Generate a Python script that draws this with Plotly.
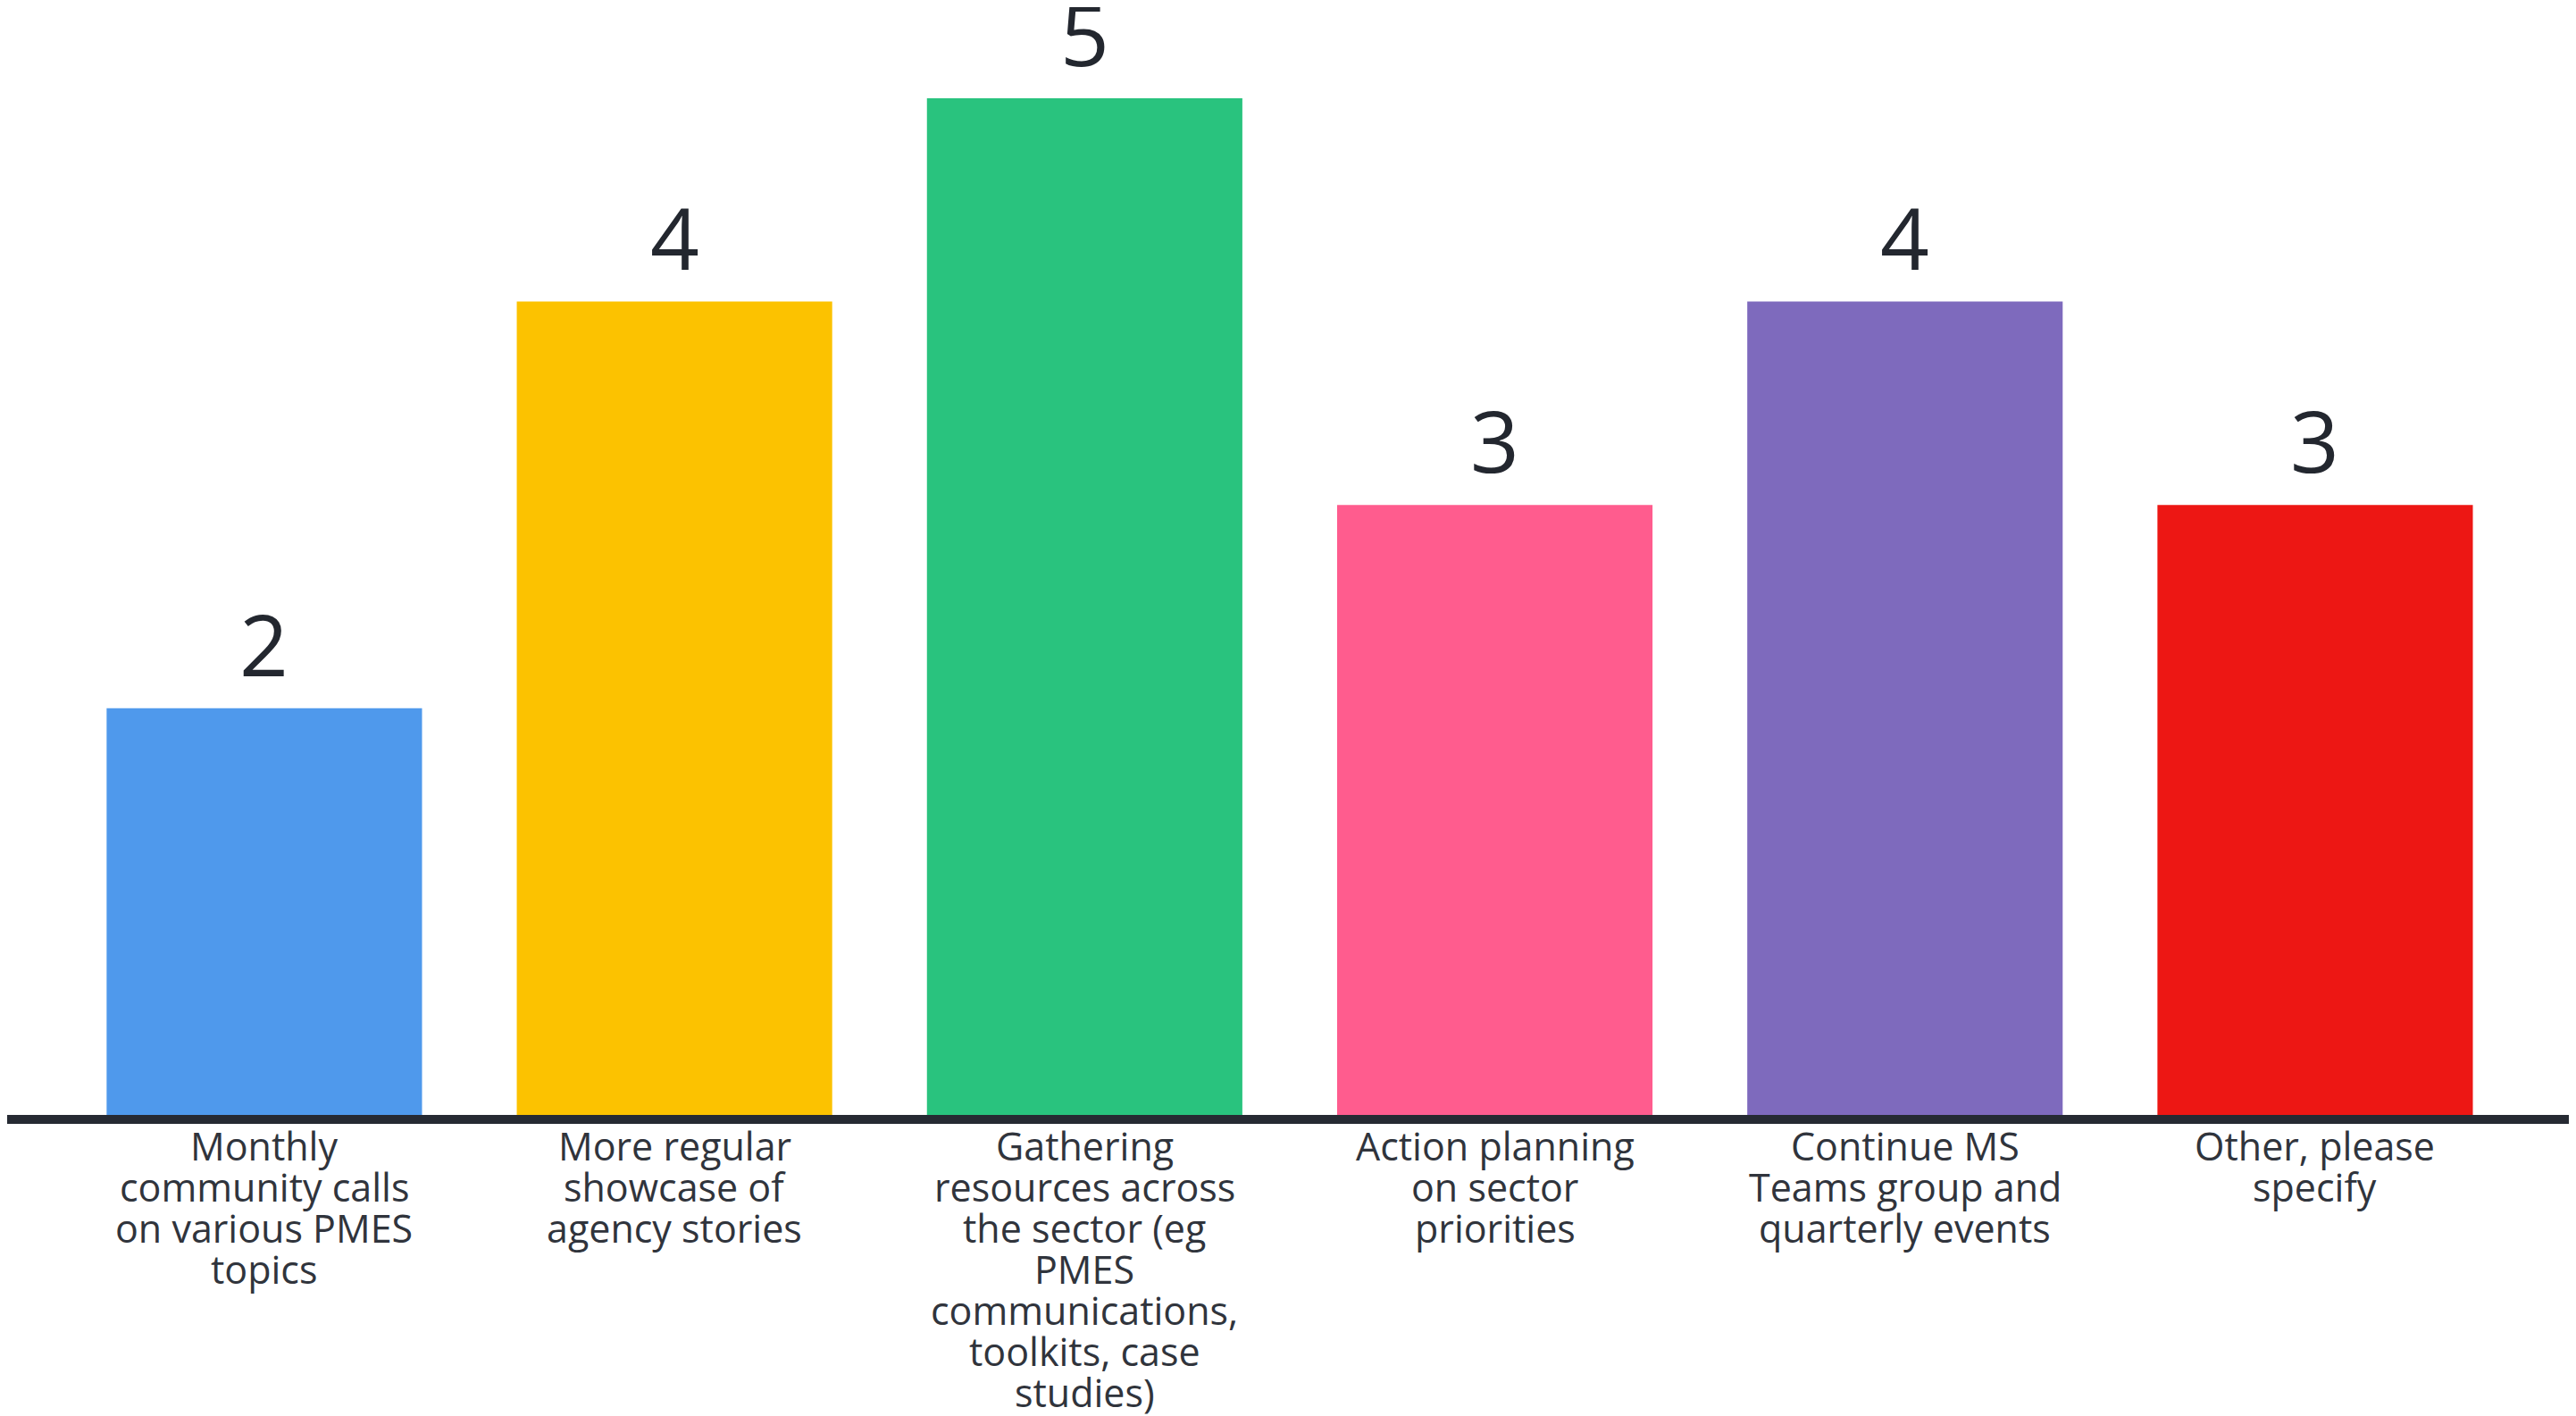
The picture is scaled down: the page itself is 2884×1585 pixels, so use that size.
import plotly.graph_objects as go

categories = [
    "Monthly<br>community calls<br>on various PMES<br>topics",
    "More regular<br>showcase of<br>agency stories",
    "Gathering<br>resources across<br>the sector (eg<br>PMES<br>communications,<br>toolkits, case<br>studies)",
    "Action planning<br>on sector<br>priorities",
    "Continue MS<br>Teams group and<br>quarterly events",
    "Other, please<br>specify",
]
values = [2, 4, 5, 3, 4, 3]
colors = ["#4F99EC", "#FCC200", "#29C37E", "#FF5C8E", "#7E6ABD", "#ED1714"]

FONT = "Source Sans Pro, Open Sans, Noto Sans, sans-serif"
TEXT_COLOR = "#30343c"
NUM_COLOR = "#23272f"
LINE_SPACING = 46

fig = go.Figure()
fig.add_trace(go.Bar(
    x=categories,
    y=values,
    marker=dict(color=colors, line=dict(width=0)),
    hoverinfo="skip",
))

annotations = []
for cat, val in zip(categories, values):
    annotations.append(dict(
        x=cat, y=val, xref="x", yref="y",
        text=str(val), showarrow=False,
        yanchor="bottom", xanchor="center", yshift=6,
        font=dict(family=FONT, size=96, color=NUM_COLOR),
    ))
    for i, line in enumerate(cat.split("<br>")):
        annotations.append(dict(
            x=cat, y=0, xref="x", yref="paper",
            text=line, showarrow=False,
            yanchor="top", xanchor="center", yshift=-3 - i * LINE_SPACING,
            font=dict(family=FONT, size=43, color=TEXT_COLOR),
        ))

fig.update_layout(
    width=2876, height=1577,
    margin=dict(l=0, r=0, t=0, b=337),
    paper_bgcolor="white", plot_bgcolor="white",
    bargap=0.231,
    showlegend=False,
    annotations=annotations,
    xaxis=dict(
        type="category",
        range=[-0.627, 5.636],
        showticklabels=False,
        showgrid=False, zeroline=False,
        showline=True, linecolor="#262a33", linewidth=10,
        ticks="",
        fixedrange=True,
    ),
    yaxis=dict(
        range=[0, 5.448],
        visible=False,
        showgrid=False, zeroline=False,
        fixedrange=True,
    ),
)

fig.write_html("out.html")
